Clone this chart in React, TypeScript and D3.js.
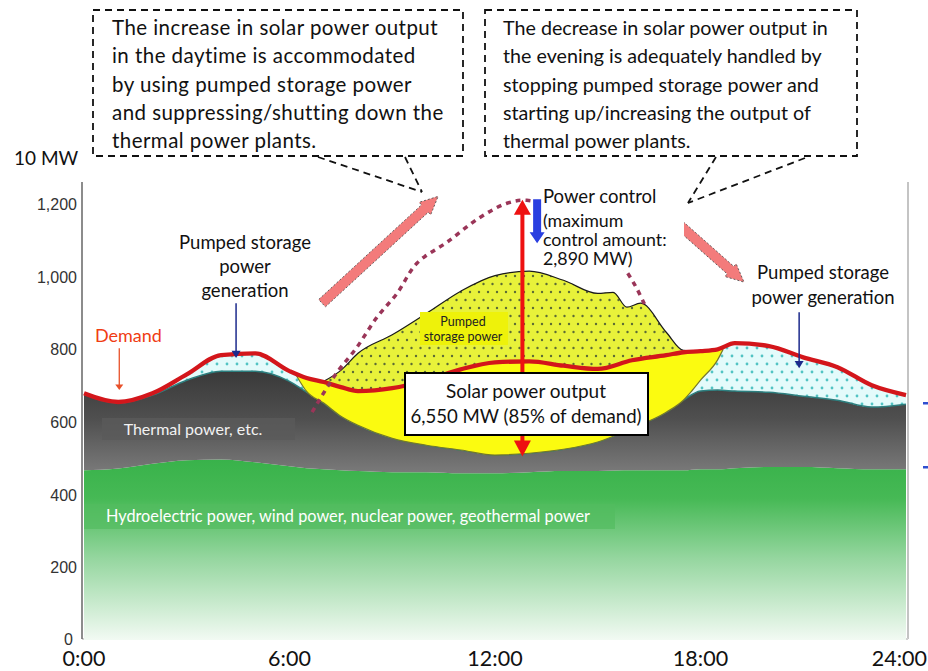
import React from "react";
import * as d3 from "d3";

// ---------- data (units: 10 MW) ----------
const hours = [0, 1, 2, 3, 4, 5, 6, 6.5, 7, 7.5, 8, 9, 10, 11, 12, 13, 14, 15, 16, 17, 17.5, 18, 18.5, 19, 20, 21, 22, 23, 24];
const hydro = [467, 472, 485, 495, 497, 489, 478, 473, 470, 467, 465, 462, 462, 459, 459, 462, 465, 465, 467, 467, 467, 470, 470, 473, 476, 476, 473, 470, 470];
const thermal = [676, 652, 674, 715, 740, 740, 712, 682, 652, 616, 591, 555, 536, 523, 509, 514, 525, 545, 583, 627, 660, 685, 688, 685, 682, 671, 660, 641, 649];
const demand = [679, 655, 679, 731, 784, 789, 740, 721, 710, 696, 685, 693, 715, 745, 764, 767, 755, 746, 770, 784, 792, 795, 800, 817, 809, 778, 751, 701, 674];

const solarHours = [6.2, 6.5, 7, 7.5, 8, 9, 10, 11, 12, 13, 14, 15, 16, 17, 17.5, 17.75, 18, 18.5, 18.66];
const solarBase = [728, 684, 652, 616, 591, 555, 536, 523, 509, 514, 525, 545, 583, 627, 660, 686, 715, 771, 800];
const solarTop = [732, 721, 710, 696, 685, 693, 715, 745, 764, 767, 755, 746, 770, 784, 792, 794, 795, 800, 804];

const pumpHours = [7, 7.5, 8, 9, 10, 11, 12, 13, 14, 15, 15.45, 15.85, 16.25, 17, 17.5, 17.9];
const pumpTop = [712, 742, 789, 840, 899, 960, 1003, 1015, 990, 954, 957, 916, 927, 847, 797, 795];

const uncontrolledHours = [6.66, 7.33, 7.97, 8.55, 9.14, 9.72, 10.6, 11.56, 12.35, 12.93, 13.9, 14.92, 15.65, 16.09, 16.38];
const uncontrolledSolar = [627, 729, 806, 888, 954, 1037, 1095, 1163, 1202, 1210, 1183, 1122, 1040, 976, 921];

const yTicks = [0, 200, 400, 600, 800, 1000, 1200];
const yTickLabels = ["0", "200", "400", "600", "800", "1,000", "1,200"];
const xTicks = [0, 6, 12, 18, 24];
const xTickLabels = ["0:00", "6:00", "12:00", "18:00", "24:00"];

const leftNote = [
  "The increase in solar power output",
  "in the daytime is accommodated",
  "by using pumped storage power",
  "and suppressing/shutting down the",
  "thermal power plants.",
];
const rightNote = [
  "The decrease in solar power output in",
  "the evening is adequately handled by",
  "stopping pumped storage power and",
  "starting up/increasing the output of",
  "thermal power plants.",
];
const controlNote = ["(maximum", "control amount:", "2,890 MW)"];

const FONT = "Lato, 'Open Sans', sans-serif";

function arrowPoly(x1: number, y1: number, x2: number, y2: number, sw: number, hw: number, hl: number) {
  const dx = x2 - x1, dy = y2 - y1;
  const L = Math.hypot(dx, dy);
  const ux = dx / L, uy = dy / L;
  const nx = -uy, ny = ux;
  const bx = x2 - ux * hl, by = y2 - uy * hl;
  const pts = [
    [x1 + nx * sw / 2, y1 + ny * sw / 2],
    [bx + nx * sw / 2, by + ny * sw / 2],
    [bx + nx * hw / 2, by + ny * hw / 2],
    [x2, y2],
    [bx - nx * hw / 2, by - ny * hw / 2],
    [bx - nx * sw / 2, by - ny * sw / 2],
    [x1 - nx * sw / 2, y1 - ny * sw / 2],
  ];
  return pts.map((p) => p.join(",")).join(" ");
}

export default function App() {
  const W = 928, H = 671;
  const x = d3.scaleLinear().domain([0, 24]).range([84, 906]);
  const y = d3.scaleLinear().domain([0, 1200]).range([640, 204]);
  const curve = d3.curveMonotoneX;

  const band = (hs: number[], lo: (i: number) => number, hi: (i: number) => number) =>
    d3.area<number>().x((i) => x(hs[i])).y0((i) => y(lo(i))).y1((i) => y(hi(i))).curve(curve)(hs.map((_, i) => i)) || "";
  const line = (hs: number[], vs: number[], c = curve) =>
    d3.line<number>().x((i) => x(hs[i])).y((i) => y(vs[i])).curve(c)(hs.map((_, i) => i)) || "";

  const greenPath = band(hours, () => 0, (i) => hydro[i]);
  const grayPath = band(hours, (i) => hydro[i], (i) => thermal[i]);
  const cyanPath = band(hours, (i) => thermal[i], (i) => Math.max(thermal[i], demand[i]));
  const solarPath = band(solarHours, (i) => solarBase[i], (i) => solarTop[i]);
  const pumpPath = band(pumpHours, () => 560, (i) => pumpTop[i]);

  // annotation anchors in data space
  const arrowHour = 12.8;
  const ctrlHour = 13.23;

  const P = (h: number, v: number) => [x(h), y(v)];
  const [lt1x, lt1y] = P(6.95, 927);
  const [lt2x, lt2y] = P(10.34, 1221);
  const [rt1x, rt1y] = P(17.4, 1141);
  const [rt2x, rt2y] = P(19.27, 985);

  const ax = x(arrowHour);
  const aTop = y(1212);
  const aBot = y(505);
  const bx = x(ctrlHour);
  const bTop = y(1213);
  const bBot = y(1092);

  return (
    <svg width={W} height={H} style={{ position: "absolute", left: 0, top: 0, background: "#fff" }} fontFamily={FONT}>
      <defs>
        <linearGradient id="gGreen" gradientUnits="userSpaceOnUse" x1="0" y1={y(500)} x2="0" y2={y(0)}>
          <stop offset="0" stopColor="#38b24a" />
          <stop offset="0.22" stopColor="#46b955" />
          <stop offset="0.55" stopColor="#95d69f" />
          <stop offset="1" stopColor="#f2faf3" />
        </linearGradient>
        <linearGradient id="gGray" gradientUnits="userSpaceOnUse" x1="0" y1={y(760)} x2="0" y2={y(460)}>
          <stop offset="0" stopColor="#363636" />
          <stop offset="0.5" stopColor="#4f4f4f" />
          <stop offset="1" stopColor="#7a7a7a" />
        </linearGradient>
        <pattern id="pYG" width="9" height="16" patternUnits="userSpaceOnUse">
          <rect width="9" height="16" fill="#e8f23a" />
          <circle cx="2" cy="4" r="1.2" fill="#5c6b35" />
          <circle cx="6.5" cy="12" r="1.2" fill="#5c6b35" />
        </pattern>
        <pattern id="pCy" width="10" height="16" patternUnits="userSpaceOnUse">
          <rect width="10" height="16" fill="#e4fbfb" />
          <circle cx="2" cy="4" r="1.4" fill="#52c4c4" />
          <circle cx="7" cy="12" r="1.4" fill="#52c4c4" />
        </pattern>
      </defs>

      {/* plot frame */}
      <line x1={908} x2={908} y1={182} y2={639} stroke="#c4c4c4" strokeWidth={2} />
      <line x1={82} x2={908} y1={639} y2={639} stroke="#d0d0d0" strokeWidth={2} />

      {/* stacked areas */}
      <path d={pumpPath} fill="url(#pYG)" />
      <path d={line(pumpHours, pumpTop)} fill="none" stroke="#1a1a1a" strokeWidth={1.2} />
      <path d={greenPath} fill="url(#gGreen)" />
      <path d={grayPath} fill="url(#gGray)" />
      <path d={cyanPath} fill="url(#pCy)" />
      <path d={line(hours, thermal)} fill="none" stroke="#2d7f7f" strokeWidth={1.5} />
      <path d={solarPath} fill="#fbfb10" />
      <path d={line(solarHours, solarBase)} fill="none" stroke="#77772a" strokeWidth={1.2} />

      {/* demand */}
      <path d={line(hours, demand)} fill="none" stroke="#d3161b" strokeWidth={4.3} strokeLinejoin="round" />

      {/* uncontrolled solar (dotted arc) */}
      <path d={line(uncontrolledHours, uncontrolledSolar, d3.curveCatmullRom)} fill="none" stroke="#9a3558" strokeWidth={3.5} strokeDasharray="5 5" />

      {/* axis */}
      <line x1={82} x2={82} y1={182} y2={639} stroke="#666" strokeWidth={1.5} />
      {yTicks.map((t, i) => (
        <text key={t} x={t === 0 ? 73 : 77} y={y(t) + (t === 0 ? 5 : 6)} textAnchor="end" fontSize={16} fontFamily="'Liberation Sans', Arial, sans-serif" fill="#333">
          {yTickLabels[i]}
        </text>
      ))}
      {xTicks.map((t, i) => (
        <text key={t} x={t === 24 ? 927 : x(t)} y={666} textAnchor={t === 24 ? "end" : "middle"} fontSize={21.5} fill="#111">
          {xTickLabels[i]}
        </text>
      ))}
      <text x={14} y={165} fontSize={19} fill="#111">10 MW</text>

      {/* band labels */}
      <rect x={102} y={418} width={193} height={22} fill="#5a5a5a" opacity={0.8} />
      <text x={193} y={435} textAnchor="middle" fontSize={16} fill="#f2f2f2">Thermal power, etc.</text>
      <rect x={84} y={504} width={531} height={25} fill="#52bc5f" opacity={0.7} />
      <text x={106} y={522} fontSize={16.3} fill="#ffffff">Hydroelectric power, wind power, nuclear power, geothermal power</text>

      {/* pumped storage label inside */}
      <rect x={420} y={312} width={88} height={33} fill="#eef20a" />
      <text x={463} y={326} textAnchor="middle" fontSize={12.5} fill="#222">Pumped</text>
      <text x={463} y={341} textAnchor="middle" fontSize={12.5} fill="#222">storage power</text>

      {/* pink arrows */}
      <polygon points={arrowPoly(lt1x, lt1y, lt2x, lt2y, 10, 17, 18)} fill="#f37b7b" stroke="#555" strokeWidth={0.9} strokeDasharray="2 2" />
      <polygon points={arrowPoly(rt1x, rt1y, rt2x, rt2y, 10, 17, 18)} fill="#f37b7b" stroke="#555" strokeWidth={0.9} strokeDasharray="2 2" />

      {/* red double arrow */}
      <line x1={ax} x2={ax} y1={aTop + 14} y2={aBot - 14} stroke="#ee1111" strokeWidth={4} />
      <polygon points={`${ax},${aTop} ${ax - 8.5},${aTop + 15} ${ax + 8.5},${aTop + 15}`} fill="#ee1111" />
      <polygon points={`${ax},${aBot} ${ax - 8.5},${aBot - 16} ${ax + 8.5},${aBot - 16}`} fill="#ee1111" />

      {/* power control text */}
      <rect x={536} y={186} width={148} height={84} fill="#fff" />
      <polygon points={arrowPoly(bx, bTop, bx, bBot, 8, 15, 11)} fill="#2a3fe0" />
      <text x={543} y={203} fontSize={18.5} fill="#111">Power control</text>
      {controlNote.map((t, i) => (
        <text key={i} x={543} y={227 + i * 19} fontSize={17.8} fill="#111">{t}</text>
      ))}

      {/* solar label */}
      <rect x={405} y={373} width={243} height={62} fill="#fff" stroke="#000" strokeWidth={2} />
      <text x={526} y={398} textAnchor="middle" fontSize={19} fill="#111">Solar power output</text>
      <text x={526} y={423} textAnchor="middle" fontSize={18.6} fill="#111">6,550 MW (85% of demand)</text>

      {/* demand label */}
      <text x={95} y={342} fontSize={18} fill="#f03c14">Demand</text>
      <line x1={x(1.03)} x2={x(1.03)} y1={y(803)} y2={y(700)} stroke="#e8502a" strokeWidth={1.3} />
      <polygon points={`${x(1.03)},${y(688)} ${x(1.03) - 4},${y(703)} ${x(1.03) + 4},${y(703)}`} fill="#e8502a" />

      {/* pumped generation labels */}
      <text x={245} y={249} textAnchor="middle" fontSize={18.5} fill="#111">Pumped storage</text>
      <text x={245} y={273} textAnchor="middle" fontSize={18.5} fill="#111">power</text>
      <text x={245} y={297} textAnchor="middle" fontSize={18.5} fill="#111">generation</text>
      <line x1={x(4.44)} x2={x(4.44)} y1={y(927)} y2={y(790)} stroke="#1c2a8c" strokeWidth={1.5} />
      <polygon points={`${x(4.44)},${y(776)} ${x(4.44) - 4.5},${y(796)} ${x(4.44) + 4.5},${y(796)}`} fill="#1c2a8c" />

      <text x={823} y={279} textAnchor="middle" fontSize={18.5} fill="#111">Pumped storage</text>
      <text x={823} y={304} textAnchor="middle" fontSize={18.5} fill="#111">power generation</text>
      <line x1={x(20.88)} x2={x(20.88)} y1={y(902)} y2={y(762)} stroke="#1c2a8c" strokeWidth={1.5} />
      <polygon points={`${x(20.88)},${y(748)} ${x(20.88) - 4.5},${y(768)} ${x(20.88) + 4.5},${y(768)}`} fill="#1c2a8c" />

      {/* callout boxes */}
      <rect x={93} y={10} width={370} height={146} fill="#fff" stroke="#111" strokeWidth={1.8} strokeDasharray="7 5" />
      {leftNote.map((t, i) => (
        <text key={i} x={112} y={35 + i * 28.3} fontSize={20.5} letterSpacing={0.45} fill="#111">{t}</text>
      ))}
      <line x1={318} y1={157} x2={422} y2={192} stroke="#111" strokeWidth={1.8} strokeDasharray="7 5" />
      <line x1={405} y1={157} x2={422} y2={192} stroke="#111" strokeWidth={1.8} strokeDasharray="7 5" />

      <rect x={485} y={10} width={372} height={146} fill="#fff" stroke="#111" strokeWidth={1.8} strokeDasharray="7 5" />
      {rightNote.map((t, i) => (
        <text key={i} x={503} y={35 + i * 28.3} fontSize={19.7} fill="#111">{t}</text>
      ))}
      <line x1={716} y1={157} x2={688} y2={203} stroke="#111" strokeWidth={1.8} strokeDasharray="7 5" />
      <line x1={805} y1={158} x2={688} y2={203} stroke="#111" strokeWidth={1.8} strokeDasharray="7 5" />

      {/* stray marks at right edge */}
      <rect x={923} y={402} width={5} height={2.5} fill="#2f4fd0" />
      <rect x={923} y={466} width={5} height={2.5} fill="#2f4fd0" />
    </svg>
  );
}
